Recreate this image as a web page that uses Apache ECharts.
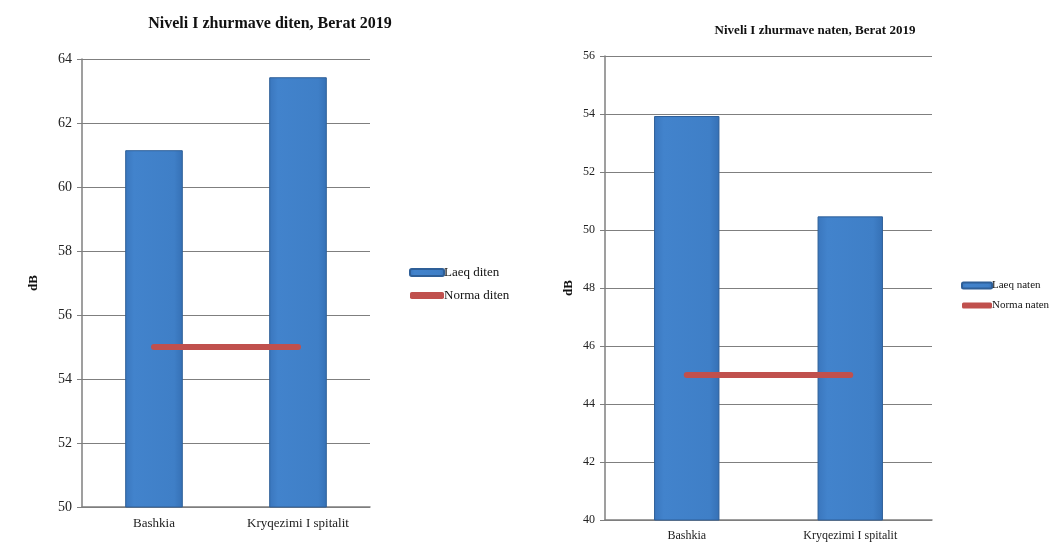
<!DOCTYPE html>
<html>
<head>
<meta charset="utf-8">
<script src="https://cdn.jsdelivr.net/npm/echarts@6/dist/echarts.min.js"></script>
<style>html,body{margin:0;padding:0;background:#fff;}#c{width:1061px;height:542px;}</style>
</head>
<body>
<div id="c"></div>
<script>
const categories = ['Bashkia', 'Kryqezimi I spitalit'];
const laeqDiten = [61.15, 63.43];
const normaDiten = [55, 55];
const laeqNaten = [53.93, 50.47];
const normaNaten = [45, 45];
const titleDiten = 'Niveli I zhurmave diten, Berat 2019';
const titleNaten = 'Niveli I zhurmave naten, Berat 2019';

const FONT = '"Liberation Serif", "Times New Roman", serif';
const barStyle = {
  color: {
    type: 'linear', x: 0, y: 0, x2: 1, y2: 0,
    colorStops: [
      { offset: 0, color: '#3a76bd' },
      { offset: 0.15, color: '#4283cc' },
      { offset: 0.85, color: '#3f7fc7' },
      { offset: 1, color: '#3570b5' }
    ]
  },
  borderColor: '#2e5f98',
  borderWidth: 1
};
const redLine = { color: '#c0504d', width: 6, cap: 'round' };

function yAxis(grid, min, max, fs) {
  return {
    type: 'value', gridIndex: grid, min: min, max: max, interval: 2,
    name: 'dB', nameLocation: 'middle', nameGap: grid === 0 ? 42 : 30,
    nameTextStyle: { fontFamily: FONT, fontWeight: 'bold', fontSize: 13, color: '#111' },
    axisLine: { show: true, lineStyle: { color: '#7f7f7f', width: 1.5 } },
    axisTick: { show: true, length: 5, lineStyle: { color: '#7f7f7f' } },
    axisLabel: { fontFamily: FONT, fontSize: fs, color: '#222', margin: 10 },
    splitLine: { show: true, lineStyle: { color: '#7f7f7f', width: 1.2 } }
  };
}
function xAxis(grid, fs) {
  return {
    type: 'category', gridIndex: grid, data: categories,
    axisLine: { lineStyle: { color: '#7f7f7f', width: 1.5 } },
    axisTick: { show: false },
    axisLabel: { fontFamily: FONT, fontSize: fs, color: '#222', margin: 10 }
  };
}

const chart = echarts.init(document.getElementById('c'));
chart.setOption({
  backgroundColor: '#fff',
  animation: false,
  title: [
    { text: titleDiten, left: 265, top: 11, textAlign: 'center',
      textStyle: { fontFamily: FONT, fontWeight: 'bold', fontSize: 16, color: '#111' } },
    { text: titleNaten, left: 810, top: 19, textAlign: 'center',
      textStyle: { fontFamily: FONT, fontWeight: 'bold', fontSize: 13, color: '#111' } }
  ],
  legend: [
    { data: [{ name: 'Laeq diten', icon: 'roundRect' }, { name: 'Norma diten', icon: 'roundRect' }],
      orient: 'vertical', left: 404, top: 261, itemWidth: 34, itemHeight: 7, itemGap: 10,
      textStyle: { fontFamily: FONT, fontSize: 13, color: '#111', padding: [0, 0, 0, -5] } },
    { data: [{ name: 'Laeq naten', icon: 'roundRect' }, { name: 'Norma naten', icon: 'roundRect' }],
      orient: 'vertical', left: 956, top: 275, itemWidth: 30, itemHeight: 6, itemGap: 9,
      textStyle: { fontFamily: FONT, fontSize: 11, color: '#111', padding: [0, 0, 0, -5] } }
  ],
  grid: [
    { left: 82, right: 691, top: 59, bottom: 35 },
    { left: 605, right: 129, top: 56, bottom: 22 }
  ],
  xAxis: [xAxis(0, 13), xAxis(1, 12)],
  yAxis: [yAxis(0, 50, 64, 14), yAxis(1, 40, 56, 12)],
  series: [
    { name: 'Laeq diten', type: 'bar', xAxisIndex: 0, yAxisIndex: 0, data: laeqDiten,
      barWidth: '40%', itemStyle: barStyle },
    { name: 'Norma diten', type: 'line', xAxisIndex: 0, yAxisIndex: 0, data: normaDiten,
      symbol: 'none', lineStyle: redLine, itemStyle: { color: '#c0504d' }, z: 5 },
    { name: 'Laeq naten', type: 'bar', xAxisIndex: 1, yAxisIndex: 1, data: laeqNaten,
      barWidth: '40%', itemStyle: barStyle },
    { name: 'Norma naten', type: 'line', xAxisIndex: 1, yAxisIndex: 1, data: normaNaten,
      symbol: 'none', lineStyle: redLine, itemStyle: { color: '#c0504d' }, z: 5 }
  ]
});
</script>
</body>
</html>
